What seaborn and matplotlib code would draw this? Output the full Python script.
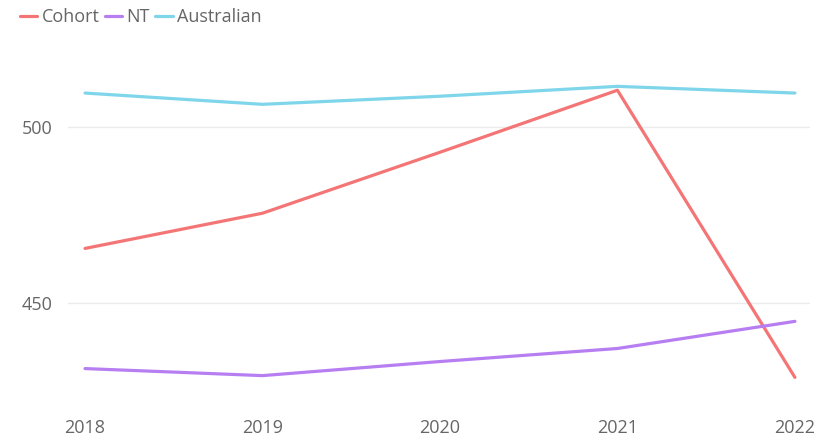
import pandas as pd
import seaborn as sns
import matplotlib.pyplot as plt

years = [2018, 2019, 2020, 2021, 2022]
cohort = [465.6, 475.6, 492.9, 510.5, 429.0]
nt = [431.5, 429.5, 433.5, 437.2, 444.9]
australian = [509.7, 506.5, 508.8, 511.6, 509.7]

df = pd.DataFrame({
    'year': years * 3,
    'score': cohort + nt + australian,
    'series': ['Cohort'] * 5 + ['NT'] * 5 + ['Australian'] * 5,
})

sns.set_style("white")
plt.rcParams['font.family'] = ['Open Sans', 'DejaVu Sans']

palette = {'Cohort': '#F47575', 'NT': '#B77EF2', 'Australian': '#7FD6EB'}

fig = plt.figure(figsize=(8.3, 4.38), dpi=100)
ax = fig.add_axes([68 / 830, 1 - 395 / 438, (810 - 68) / 830, (395 - 55) / 438])

sns.lineplot(data=df, x='year', y='score', hue='series', palette=palette,
             linewidth=2.3, ax=ax)

ax.set_xlim(2017.904, 2022.085)
ax.set_ylim(424, 520.5)
ax.set_yticks([450, 500])
ax.set_xticks(years)
ax.set_xlabel('')
ax.set_ylabel('')
ax.grid(axis='y', color='#ebebeb', linewidth=1)
ax.grid(axis='x', visible=False)
for s in ax.spines.values():
    s.set_visible(False)
ax.tick_params(axis='both', colors='#666666', labelsize=13, length=0)
ax.tick_params(axis='y', pad=11)
ax.tick_params(axis='x', pad=17)

ax.legend(loc='center left', bbox_to_anchor=(-48 / 742, 1 + 38 / 340), ncol=3,
          frameon=False, handlelength=0.95, handletextpad=0.25, columnspacing=0.3,
          fontsize=13, labelcolor='#666666', borderaxespad=0, borderpad=0)

fig.savefig('out.png', dpi=100)
